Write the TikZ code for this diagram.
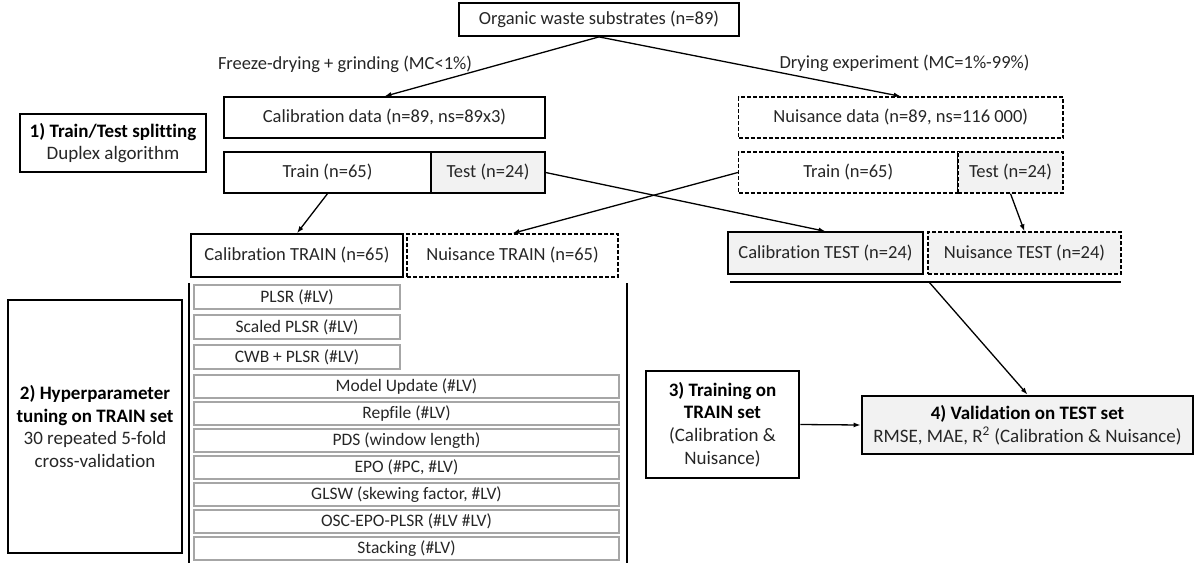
\documentclass[tikz,border=0pt]{standalone}
\usepackage{fontspec}
\setmainfont{Carlito}[Ligatures=CommonOff]
\usetikzlibrary{arrows.meta,calc}
\definecolor{lgray}{HTML}{F2F2F2}
\definecolor{igray}{HTML}{A6A6A6}
\definecolor{txt}{HTML}{262626}
\begin{document}
\begin{tikzpicture}[x=1pt,y=-1pt,
  every node/.style={font=\fontsize{18.5}{22.5}\selectfont, text=txt, inner sep=0pt, align=center},
  plainbox/.style={draw=black, line width=1.3pt},
  dashbox/.style={draw=black, line width=1.3pt, dash pattern=on 4pt off 2pt},
  thickbox/.style={draw=black, line width=2.8pt, font=\fontsize{19}{22.8}\selectfont},
  graybox/.style={fill=lgray},
  item/.style={draw=igray, line width=1.2pt, font=\fontsize{17.5}{20}\selectfont, text=txt},
  conn/.style={line width=1.3pt, -{Latex[length=7pt,width=5pt]}},
  bar/.style={line width=2.8pt}
]
\useasboundingbox (0,0) rectangle (1196,565);

% top
\node[plainbox, line width=1.8pt, minimum width=280pt, minimum height=33pt] (org) at (599,19.5) {Organic waste substrates (n=89)};
\node (lfreeze) at (345,64) {Freeze-drying + grinding (MC<1\%)};
\node (ldry) at (904.5,63) {Drying experiment (MC=1\%-99\%)};

\node[plainbox, minimum width=321pt, minimum height=41pt] (caldata) at (384.5,117.5) {Calibration data (n=89, ns=89x3)};
\node[dashbox, minimum width=324.5pt, minimum height=41pt] (nuisdata) at (900.75,117.5) {Nuisance data (n=89, ns=116 000)};

\node[thickbox, minimum width=186pt, minimum height=58pt] (step1) at (113,143) {\textbf{\color{black}1) Train/Test splitting}\\Duplex algorithm};

\node[plainbox, minimum width=207pt, minimum height=41pt] (caltr) at (327.5,172.5) {Train (n=65)};
\node[plainbox, graybox, minimum width=114pt, minimum height=41pt] (calte) at (488,172.5) {Test (n=24)};
\node[dashbox, minimum width=219.5pt, minimum height=41pt] (nuistr) at (848.25,172.5) {Train (n=65)};
\node[dashbox, graybox, minimum width=105pt, minimum height=41pt] (nuiste) at (1010.5,172.5) {Test (n=24)};

\node[plainbox, line width=1.6pt, minimum width=212pt, minimum height=43pt] (calTRAIN) at (297,255.5) {Calibration TRAIN (n=65)};
\node[dashbox, minimum width=211pt, minimum height=43pt] (nuisTRAIN) at (512.5,255.5) {Nuisance TRAIN (n=65)};
\node[plainbox, graybox, minimum width=195pt, minimum height=42pt] (calTEST) at (825.5,253) {Calibration TEST (n=24)};
\node[dashbox, graybox, minimum width=193pt, minimum height=42pt] (nuisTEST) at (1024.5,253) {Nuisance TEST (n=24)};

\coordinate (barL) at (730,282);
\coordinate (barR) at (1121,282);
\coordinate (barM) at (929,282);
\draw[bar] (barL) -- (barR);

% hyperparameter section
\node[thickbox, minimum width=174pt, minimum height=253pt] (step2) at (95,426.5) {\textbf{\color{black}2) Hyperparameter}\\\textbf{\color{black}tuning on TRAIN set}\\30 repeated 5-fold\\cross-validation};
\coordinate (vl1) at (189,283);
\coordinate (vl2) at (189,563);
\coordinate (vr1) at (627,283);
\coordinate (vr2) at (627,563);
\draw[bar] (vl1) -- (vl2);
\draw[bar] (vr1) -- (vr2);

\node[item, minimum width=206pt, minimum height=24pt] (m1) at (297,297) {PLSR (\#LV)};
\node[item, minimum width=206pt, minimum height=24pt] (m2) at (297,327) {Scaled PLSR (\#LV)};
\node[item, minimum width=206pt, minimum height=24pt] (m3) at (297,357) {CWB + PLSR (\#LV)};
\node[item, minimum width=425pt, minimum height=23pt] (m4) at (406.5,386.5) {Model Update (\#LV)};
\node[item, minimum width=425pt, minimum height=23pt] (m5) at (406.5,413.5) {Repfile (\#LV)};
\node[item, minimum width=425pt, minimum height=23pt] (m6) at (406.5,440.5) {PDS (window length)};
\node[item, minimum width=425pt, minimum height=23pt] (m7) at (406.5,467.5) {EPO (\#PC, \#LV)};
\node[item, minimum width=425pt, minimum height=23pt] (m8) at (406.5,494.5) {GLSW (skewing factor, \#LV)};
\node[item, minimum width=425pt, minimum height=23pt] (m9) at (406.5,521.5) {OSC-EPO-PLSR (\#LV \#LV)};
\node[item, minimum width=425pt, minimum height=23pt] (m10) at (406.5,548.5) {Stacking (\#LV)};

\node[thickbox, minimum width=153pt, minimum height=107pt] (step3) at (722.5,424.5) {\textbf{\color{black}3) Training on}\\\textbf{\color{black}TRAIN set}\\(Calibration \&\\Nuisance)};
\node[thickbox, graybox, minimum width=331pt, minimum height=58pt] (step4) at (1027.5,425) {\textbf{\color{black}4) Validation on TEST set}\\RMSE, MAE, R\textsuperscript{2} (Calibration \& Nuisance)};

% connectors
\draw[conn] (org.south) -- (caldata.north);
\draw[conn] (org.south) -- (nuisdata.north);
\draw[conn] (caltr.south) -- (calTRAIN.north);
\draw[conn] (calte.east) -- (calTEST.north);
\draw[conn] (nuistr.west) -- (nuisTRAIN.north);
\draw[conn] (nuiste.south) -- (nuisTEST.north);
\draw[conn] (barM) -- (step4.north);
\draw[conn] (step3.east) -- (step4.west);
\end{tikzpicture}
\end{document}
